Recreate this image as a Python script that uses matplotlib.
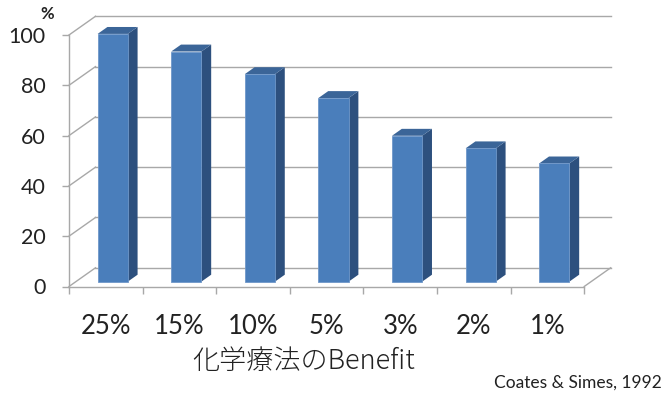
import matplotlib
matplotlib.use('Agg')
import matplotlib.pyplot as plt
from matplotlib.patches import Polygon

benefits = ['25%', '15%', '10%', '5%', '3%', '2%', '1%']
accept_pct = [98.5, 91.5, 82.5, 73, 58, 53, 47]
yticks = [0, 20, 40, 60, 80, 100]
xlabel = '化学療法のBenefit'
source = 'Coates & Simes, 1992'

# fake 3d: how far the back wall sits from the front plane (data units)
DEPTH_X = 0.36
DEPTH_Y = 7.44
BAR_W = 0.41
BAR_Z0 = 0.26   # bar front face position inside the depth
BAR_D = 0.37    # bar depth

FRONT = '#4a7ebb'
SIDE = '#2d507e'
TOP = '#3b6598'
GRID = '#a8a8a8'

fig = plt.figure(figsize=(6.66, 3.96), dpi=100)
ax = fig.add_axes([69 / 666, (396 - 286.5) / 396, 515.2 / 666, 251.5 / 396])
ax.set_xlim(0, len(benefits))
ax.set_ylim(0, 100)

for s in ['top', 'right']:
    ax.spines[s].set_visible(False)
for s in ['left', 'bottom']:
    ax.spines[s].set_color(GRID)
    ax.spines[s].set_linewidth(1)

# back wall gridlines + side wall diagonals
n = len(benefits)
for v in yticks:
    ax.plot([DEPTH_X, n + DEPTH_X], [v + DEPTH_Y, v + DEPTH_Y], color=GRID, lw=1,
            clip_on=False, zorder=1)
    ax.plot([0, DEPTH_X], [v, v + DEPTH_Y], color=GRID, lw=1, clip_on=False, zorder=1)
# right edge of the floor
ax.plot([n, n + DEPTH_X], [0, DEPTH_Y], color=GRID, lw=1, clip_on=False, zorder=1)

# bars, drawn back to front
for i, v in enumerate(accept_pct):
    x0 = i + 0.5 - BAR_W / 2 + BAR_Z0 * DEPTH_X
    b = BAR_Z0 * DEPTH_Y
    dx = BAR_D * DEPTH_X
    dy = BAR_D * DEPTH_Y
    side = Polygon([(x0 + BAR_W, b), (x0 + BAR_W + dx, b + dy),
                    (x0 + BAR_W + dx, b + v + dy), (x0 + BAR_W, b + v)],
                   closed=True, fc=SIDE, ec='none', clip_on=False, zorder=3)
    top = Polygon([(x0, b + v), (x0 + BAR_W, b + v),
                   (x0 + BAR_W + dx, b + v + dy), (x0 + dx, b + v + dy)],
                  closed=True, fc=TOP, ec='none', clip_on=False, zorder=3)
    front = Polygon([(x0, b), (x0 + BAR_W, b), (x0 + BAR_W, b + v), (x0, b + v)],
                    closed=True, fc=FRONT, ec='#6f97c9', lw=0.6, clip_on=False, zorder=4)
    ax.add_patch(side)
    ax.add_patch(top)
    ax.add_patch(front)

ax.set_yticks(yticks)
ax.set_yticklabels([str(t) for t in yticks], fontsize=15.5, fontfamily='Lato', color='#222222')
ax.tick_params(axis='y', length=5, width=1, color=GRID, pad=12)

ax.set_xticks(range(n + 1))
ax.set_xticklabels([])
ax.set_xticks([i + 0.5 for i in range(n)], minor=True)
ax.set_xticklabels(benefits, minor=True, fontsize=18.5, fontfamily='Lato', color='#222222')
ax.tick_params(axis='x', which='major', length=5, width=1, color=GRID)
ax.tick_params(axis='x', which='minor', length=0, pad=20)

fig.text(47 / 666, 1 - 14 / 396, '%', fontsize=12, fontweight='bold', fontfamily='Lato',
         ha='center', va='center', color='#222222')
fig.text(304 / 666, 1 - 361 / 396, xlabel, fontsize=19.5, fontweight='light',
         fontfamily=['Noto Sans CJK JP', 'DejaVu Sans'], ha='center', va='center', color='#222222')
fig.text(662 / 666, 1 - 383 / 396, source, fontsize=12.5, fontfamily='Lato',
         ha='right', va='center', color='#222222')

fig.savefig('out.png', dpi=100)
